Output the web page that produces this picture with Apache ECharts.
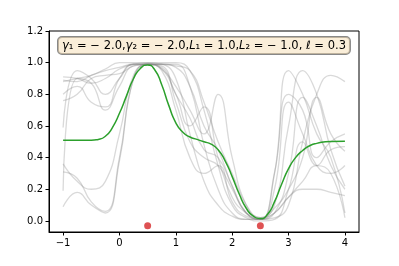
<!DOCTYPE html>
<html><head><meta charset="utf-8">
<script src="https://cdn.jsdelivr.net/npm/echarts@6/dist/echarts.min.js"></script>
<style>html,body{margin:0;padding:0;background:#fff}#c{width:399px;height:266px}</style>
</head><body><div id="c"></div>
<script>
const xGrid = [-1,-0.75,-0.5,-0.25,0,0.25,0.5,0.75,1,1.25,1.5,1.75,2,2.25,2.5,2.75,3,3.25,3.5,3.75,4];
const sample1 = [0.91,0.90,0.87,0.90,0.96,0.99,1.0,0.99,0.90,0.55,0.25,0.1,0.03,0.01,0.01,0.2,0.75,0.55,0.35,0.3,0.35];
const sample2 = [0.76,0.80,0.90,0.92,0.93,0.98,0.99,0.97,0.80,0.65,0.45,0.40,0.22,0.05,0.01,0.05,0.30,0.78,0.60,0.35,0.20];
const sample3 = [0.59,0.95,0.90,0.80,0.90,0.99,0.99,0.99,0.98,0.95,0.75,0.50,0.30,0.10,0.02,0.10,0.60,0.95,0.80,0.45,0.22];
const sample4 = [0.36,0.25,0.20,0.25,0.55,0.92,0.99,0.96,0.85,0.70,0.55,0.80,0.40,0.10,0.02,0.05,0.15,0.20,0.20,0.18,0.16];
const sample5 = [0.31,0.27,0.12,0.06,0.40,0.90,0.99,0.98,0.75,0.50,0.40,0.35,0.20,0.05,0.01,0.08,0.20,0.40,0.78,0.55,0.44];
const sample6 = [0.19,0.90,0.87,0.70,0.85,0.98,0.99,0.96,0.80,0.60,0.72,0.40,0.15,0.05,0.01,0.30,0.80,0.70,0.40,0.50,0.55];
const sample7 = [0.09,0.18,0.10,0.05,0.38,0.90,0.99,0.95,0.70,0.40,0.30,0.35,0.12,0.03,0.01,0.05,0.15,0.25,0.35,0.30,0.02];
const sample8 = [0.89,0.88,0.92,0.95,0.97,0.99,0.99,0.99,0.97,0.85,0.60,0.45,0.22,0.05,0.01,0.30,0.95,0.80,0.55,0.40,0.05];
const sample9 = [0.80,0.85,0.75,0.72,0.90,0.99,0.99,0.99,0.99,0.85,0.48,0.20,0.05,0.01,0.01,0.02,0.10,0.50,0.80,0.92,0.88];
const sample10 = [0.88,0.90,0.92,0.96,1.0,1.0,1.0,1.0,1.0,0.95,0.70,0.35,0.10,0.02,0.00,0.01,0.20,0.50,0.35,0.45,0.47];
const samples = [sample1,sample2,sample3,sample4,sample5,sample6,sample7,sample8,sample9,sample10];

const meanX = [-1,-0.75,-0.5,-0.375,-0.25,-0.125,0,0.125,0.25,0.375,0.5,0.625,0.75,0.875,1,1.125,1.25,1.375,1.5,1.625,1.75,1.875,2,2.125,2.25,2.375,2.5,2.625,2.75,2.875,3,3.125,3.25,3.375,3.5,3.75,4];
const meanY = [0.51,0.51,0.51,0.515,0.535,0.59,0.68,0.79,0.90,0.965,0.985,0.955,0.86,0.73,0.62,0.56,0.53,0.515,0.50,0.485,0.45,0.38,0.28,0.17,0.08,0.03,0.015,0.04,0.12,0.23,0.33,0.40,0.445,0.475,0.49,0.502,0.503];

const obsX = [0.5, 2.5];
const obsY = [-0.03, -0.03];

const xTicks = [-1,0,1,2,3,4];
const yTicks = [0,0.2,0.4,0.6,0.8,1.0,1.2];

const chart = echarts.init(document.getElementById('c'), null, {renderer:'canvas'});
const series = samples.map(s => ({
  type:'line', data: xGrid.map((x,i)=>[x,s[i]]), smooth:0.5, symbol:'none',
  lineStyle:{color:'rgba(128,128,128,0.3)', width:1.3}, silent:true, z:1
}));
series.push({type:'line', data: meanX.map((x,i)=>[x,meanY[i]]), smooth:0.6, symbol:'none',
  lineStyle:{color:'#2ca02c', width:1.5}, z:3});
series.push({type:'scatter', data: obsX.map((x,i)=>[x,obsY[i]]), symbolSize:7,
  itemStyle:{color:'#d62728'}, z:4});

const lab = {fontFamily:'DejaVu Sans', fontSize:10, color:'#000'};
chart.setOption({
  animation:false,
  grid:{left:49, right:40, top:31, bottom:34, show:true, borderColor:'#000', borderWidth:1, containLabel:false},
  xAxis:{type:'value', min:-1.25, max:4.25, splitLine:{show:false},
    axisLine:{show:true, onZero:false, lineStyle:{color:'#000'}},
    axisTick:{show:true, length:3.5, customValues:xTicks, lineStyle:{color:'#000'}},
    axisLabel:{...lab, margin:6, customValues:xTicks, formatter:v=>String(v).replace('-','\u2212')}},
  yAxis:{type:'value', min:-0.07, max:1.2, splitLine:{show:false},
    axisLine:{show:true, onZero:false, lineStyle:{color:'#000'}},
    axisTick:{show:true, length:3.5, customValues:yTicks, lineStyle:{color:'#000'}},
    axisLabel:{...lab, margin:6, customValues:yTicks, formatter:v=>v.toFixed(1)}},
  graphic:[{type:'text', left:57, top:36, z:10,
    style:{
      text:'{i|γ}₁ = − 2.0,{i|γ}₂ = − 2.0,{i|L}₁ = 1.0,{i|L}₂ = − 1.0, {i|ℓ} = 0.3',
      fontFamily:'DejaVu Sans', fontSize:11.5, fill:'#000',
      backgroundColor:'rgba(245,222,179,0.5)', borderColor:'#888', borderWidth:1, borderRadius:4,
      padding:[3,4,2,4],
      rich:{i:{fontStyle:'italic', fontFamily:'DejaVu Sans', fontSize:11.5}}
    }}],
  series
});
</script></body></html>
